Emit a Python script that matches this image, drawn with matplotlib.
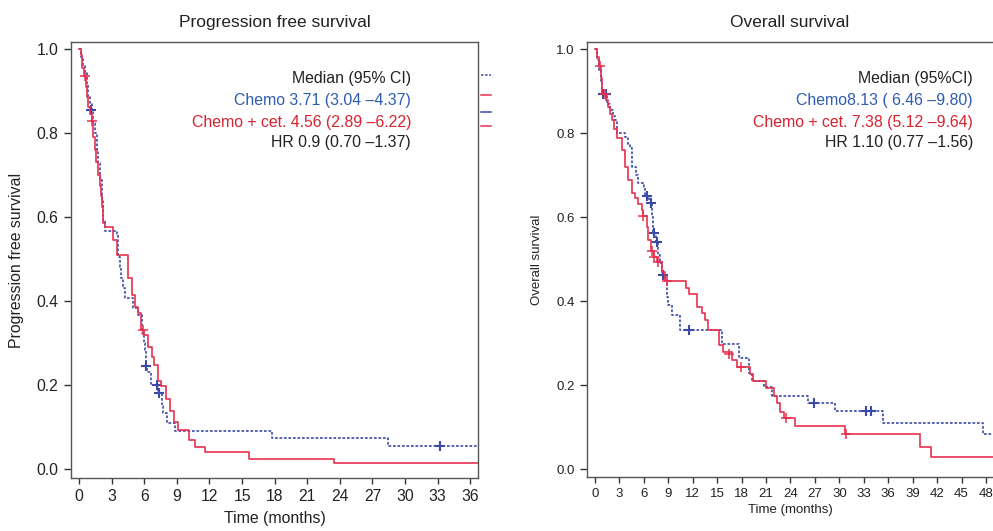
import matplotlib
matplotlib.use("Agg")
import matplotlib.pyplot as plt
from matplotlib.lines import Line2D

plt.rcParams['font.family'] = ['Liberation Sans', 'DejaVu Sans']

# ---- Progression free survival (step times, survival after step) ----
pfs_chemo_t = [0, 0.2, 0.4, 0.55, 0.7, 0.86, 1.0, 1.17, 1.3, 1.47, 1.63, 1.78, 1.93, 2.09,
               2.24, 2.39, 3.45, 3.55, 3.62, 3.75, 3.9, 4.05, 4.2, 4.94, 5.46, 5.77, 5.95,
               6.07, 6.12, 6.29, 6.59, 7.3, 7.6, 7.75, 8.13, 8.83, 17.73, 28.4, 36.7]
pfs_chemo_s = [1.0, 0.98, 0.96, 0.942, 0.915, 0.886, 0.87, 0.855, 0.825, 0.80, 0.76, 0.728,
               0.688, 0.64, 0.593, 0.567, 0.56, 0.53, 0.505, 0.48, 0.455, 0.43, 0.406, 0.383,
               0.367, 0.323, 0.30, 0.283, 0.245, 0.232, 0.20, 0.182, 0.15, 0.133, 0.109,
               0.091, 0.073, 0.055, 0.055]
pfs_chemo_cens_t = [1.1, 6.16, 7.15, 7.39, 33.2]
pfs_chemo_cens_s = [0.855, 0.245, 0.20, 0.182, 0.055]

pfs_cet_t = [0, 0.15, 0.3, 0.45, 0.6, 0.75, 0.86, 1.0, 1.17, 1.3, 1.45, 1.6, 1.75, 1.9, 2.0,
             2.08, 2.17, 2.24, 2.35, 3.16, 3.5, 4.54, 4.85, 5.15, 5.46, 5.70, 6.00, 6.30,
             6.69, 6.93, 7.24, 7.55, 8.00, 8.37, 8.74, 9.14, 10.15, 10.7, 11.6, 15.64, 23.5,
             36.7]
pfs_cet_s = [1.0, 0.985, 0.955, 0.935, 0.91, 0.885, 0.863, 0.845, 0.829, 0.79, 0.76, 0.73,
             0.70, 0.675, 0.65, 0.625, 0.605, 0.585, 0.577, 0.545, 0.51, 0.455, 0.414, 0.386,
             0.371, 0.331, 0.319, 0.290, 0.267, 0.248, 0.210, 0.197, 0.167, 0.138, 0.112,
             0.093, 0.069, 0.053, 0.040, 0.025, 0.014, 0.014]
pfs_cet_cens_t = [0.55, 1.2, 5.92]
pfs_cet_cens_s = [0.935, 0.829, 0.331]

# ---- Overall survival ----
os_chemo_t = [0, 0.3, 0.5, 0.7, 0.9, 1.5, 1.84, 2.2, 2.46, 2.66, 3.68, 4.0, 4.3, 4.5, 5.0,
              5.32, 6.0, 6.2, 6.6, 7.0, 7.16, 7.45, 7.7, 8.0, 8.19, 8.25, 8.6, 8.8, 9.0, 9.4,
              10.43, 15.6, 17.65, 18.94, 19.3, 20.78, 21.7, 26.2, 29.46, 35.3, 47.6, 49.0]
os_chemo_s = [1.0, 0.975, 0.95, 0.92, 0.892, 0.87, 0.855, 0.84, 0.831, 0.80, 0.79, 0.775,
              0.764, 0.72, 0.70, 0.68, 0.672, 0.65, 0.633, 0.60, 0.561, 0.541, 0.51, 0.49,
              0.474, 0.462, 0.45, 0.41, 0.39, 0.367, 0.331, 0.297, 0.264, 0.228, 0.21,
              0.195, 0.175, 0.158, 0.138, 0.110, 0.083, 0.083]
os_chemo_cens_t = [1.02, 1.31, 6.34, 6.87, 7.28, 7.57, 8.3, 11.6, 26.9, 33.26, 33.84]
os_chemo_cens_s = [0.892, 0.892, 0.65, 0.633, 0.561, 0.541, 0.462, 0.331, 0.158, 0.138, 0.138]

os_cet_t = [0, 0.3, 0.5, 0.7, 0.82, 1.4, 1.64, 1.85, 2.05, 2.3, 2.66, 3.27, 3.68, 4.09, 4.5,
            4.9, 5.32, 5.73, 5.85, 6.35, 6.54, 6.9, 7.2, 7.6, 8.19, 8.6, 11.17, 11.5, 12.47,
            13.1, 13.5, 13.9, 15.25, 15.75, 16.78, 17.39, 19.0, 19.43, 20.95, 22.0, 22.3,
            22.7, 23.2, 24.55, 30.7, 39.9, 41.3, 49.0]
os_cet_s = [1.0, 0.98, 0.96, 0.93, 0.894, 0.878, 0.863, 0.845, 0.831, 0.81, 0.787, 0.76,
            0.72, 0.688, 0.656, 0.645, 0.632, 0.617, 0.602, 0.577, 0.545, 0.52, 0.504, 0.493,
            0.47, 0.448, 0.432, 0.417, 0.385, 0.371, 0.355, 0.33, 0.295, 0.279, 0.26, 0.244,
            0.226, 0.21, 0.192, 0.175, 0.156, 0.136, 0.122, 0.103, 0.083, 0.052, 0.029, 0.029]
os_cet_cens_t = [0.61, 1.23, 5.93, 7.04, 7.28, 7.77, 8.8, 16.5, 17.9, 23.45, 30.8]
os_cet_cens_s = [0.96, 0.894, 0.602, 0.52, 0.504, 0.493, 0.448, 0.275, 0.244, 0.122, 0.083]

pfs_text = ["Median (95% CI)", "Chemo 3.71 (3.04 \u20134.37)",
            "Chemo + cet. 4.56 (2.89 \u20136.22)", "HR 0.9 (0.70 \u20131.37)"]
os_text = ["Median (95%CI)", "Chemo8.13 ( 6.46 \u20139.80)",
           "Chemo + cet. 7.38 (5.12 \u20139.64)", "HR 1.10 (0.77 \u20131.56)"]

blue_line = '#3a4aa6'
red_line = '#e8304e'
blue_txt = '#2f5db0'
red_txt = '#d8232f'
txt_cols = ['#222222', blue_txt, red_txt, '#222222']
spine_col = '#555555'

fig = plt.figure(figsize=(9.93, 5.31), dpi=100)
ax1 = fig.add_axes([71 / 993, 1 - 478 / 531, 407 / 993, 436 / 531])
ax2 = fig.add_axes([587 / 993, 1 - 477 / 531, 406 / 993, 435 / 531])


def km(ax, t, s, ct, cs, col, ls, ms, mew):
    ax.step(t, s, where='post', color=col, lw=1.2, ls=ls)
    ax.plot(ct, cs, ls='none', marker='+', color=col, ms=ms, mew=mew)


km(ax1, pfs_chemo_t, pfs_chemo_s, pfs_chemo_cens_t, pfs_chemo_cens_s, blue_line, (0, (1.6, 1.1)), 7, 1.5)
km(ax1, pfs_cet_t, pfs_cet_s, pfs_cet_cens_t, pfs_cet_cens_s, red_line, '-', 7, 1.1)
km(ax2, os_chemo_t, os_chemo_s, os_chemo_cens_t, os_chemo_cens_s, blue_line, (0, (1.6, 1.1)), 7, 1.5)
km(ax2, os_cet_t, os_cet_s, os_cet_cens_t, os_cet_cens_s, red_line, '-', 7, 1.1)

ax1.set_xlim(-0.74, 36.71)
ax1.set_ylim(-0.0214, 1.0167)
ax2.set_xlim(-0.98, 48.86)
ax2.set_ylim(-0.019, 1.0167)

ax1.set_xticks(range(0, 37, 3))
ax2.set_xticks(range(0, 49, 3))
for ax in (ax1, ax2):
    ax.set_yticks([0, 0.2, 0.4, 0.6, 0.8, 1.0])
    ax.set_yticklabels(['0.0', '0.2', '0.4', '0.6', '0.8', '1.0'])
    for sp in ax.spines.values():
        sp.set_color(spine_col)
        sp.set_linewidth(1.0)
    ax.tick_params(axis='both', colors='#333333', width=1.0)
    ax.tick_params(axis='y', length=5, pad=4)
    ax.tick_params(axis='x', length=4, pad=4)
ax2.spines['right'].set_visible(False)

ax1.tick_params(labelsize=11.3, labelcolor='#222222')
ax2.tick_params(labelsize=9.5, labelcolor='#222222')

ax1.set_title("Progression free survival", fontsize=12.5, color='#222222', pad=11)
ax2.set_title("Overall survival", fontsize=12.5, color='#222222', pad=11)
ax1.set_xlabel("Time (months)", fontsize=11.4, color='#222222', labelpad=5)
ax2.set_xlabel("Time (months)", fontsize=9.5, color='#222222', labelpad=3)
ax1.set_ylabel("Progression free survival", fontsize=11.4, color='#222222', labelpad=9)
ax2.set_ylabel("Overall survival", fontsize=9.5, color='#222222', labelpad=9)

# annotation blocks (right-aligned)
ys = [79, 101, 122, 143]
for txt, col, y in zip(pfs_text, txt_cols, ys):
    fig.text(411 / 993, 1 - y / 531, txt, color=col, fontsize=11.4, ha='right', va='center')
for txt, col, y in zip(os_text, txt_cols, ys):
    fig.text(973 / 993, 1 - y / 531, txt, color=col, fontsize=11.4, ha='right', va='center')

# clipped legend fragments beside left panel
frag = [(75, blue_line, (0, (1.6, 1.1))), (95, red_line, '-'), (111.5, blue_line, '-'), (126, red_line, '-')]
for y, col, ls in frag:
    fig.add_artist(Line2D([481 / 993, 491 / 993], [1 - y / 531, 1 - y / 531],
                          transform=fig.transFigure, color=col, lw=1.1, ls=ls))

fig.savefig("out.png", dpi=100)
